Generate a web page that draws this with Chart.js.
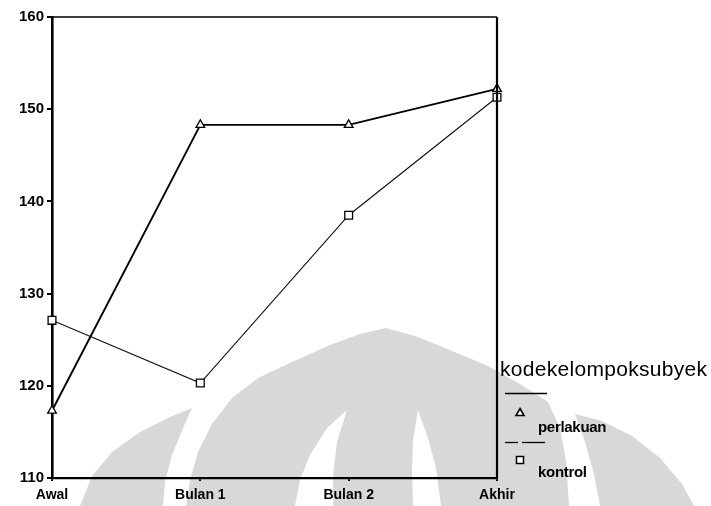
<!DOCTYPE html>
<html>
<head>
<meta charset="utf-8">
<script src="https://cdn.jsdelivr.net/npm/chart.js@4/dist/chart.umd.min.js"></script>
<style>
  html,body{margin:0;padding:0;background:#fff;}
  #wrap{position:relative;width:711px;height:506px;overflow:hidden;}
  canvas{position:absolute;left:0;top:0;}
  .lg{position:absolute;font-family:"Liberation Sans",Arial,sans-serif;color:#000;white-space:nowrap;line-height:1;}
  #ttl{left:500px;top:358px;font-size:21px;letter-spacing:0.3px;}
  .itm{font-size:15px;font-weight:bold;letter-spacing:-0.3px;}
  svg.lgs{position:absolute;left:0;top:0;}
</style>
</head>
<body>
<div id="wrap">
  <canvas id="c" width="711" height="506"></canvas>
  <svg class="lgs" width="711" height="506">
    <line x1="505" y1="393.5" x2="547" y2="393.5" stroke="#000" stroke-width="1.3"/>
    <polygon points="520,408.5 524,415.5 516,415.5" fill="#fff" stroke="#000" stroke-width="1.6"/>
    <line x1="505" y1="442.5" x2="518" y2="442.5" stroke="#000" stroke-width="1.3"/>
    <line x1="522" y1="442.5" x2="545" y2="442.5" stroke="#000" stroke-width="1.3"/>
    <rect x="516.5" y="456.5" width="7" height="7" fill="#fff" stroke="#000" stroke-width="1.5"/>
  </svg>
  <div id="ttl" class="lg">kodekelompoksubyek</div>
  <div class="lg itm" style="left:538px;top:419px;">perlakuan</div>
  <div class="lg itm" style="left:538px;top:464px;">kontrol</div>
</div>
<script>
const categories = ["Awal", "Bulan 1", "Bulan 2", "Akhir"];
const perlakuan = [117.3, 148.3, 148.3, 152.2];
const kontrol = [127.1, 120.3, 138.5, 151.3];
const yTicks = [110, 120, 130, 140, 150, 160];

const watermark = {
  id: 'watermark',
  beforeDraw(chart) {
    const ctx = chart.ctx;
    ctx.save();
    ctx.fillStyle = '#d8d8d8';
    const poly = (pts) => {
      ctx.beginPath();
      ctx.moveTo(pts[0][0], pts[0][1]);
      for (let i = 1; i < pts.length; i++) ctx.lineTo(pts[i][0], pts[i][1]);
      ctx.closePath();
      ctx.fill();
    };
    // left outer leg
    poly([[80,506],[92,476],[112,452],[140,432],[170,417],[192,408],[184,426],[172,455],[165,482],[163,506]]);
    // right outer leg
    poly([[600,506],[594,474],[585,442],[575,414],[602,421],[632,436],[660,458],[682,484],[694,506]]);
    // central arch
    poly([[186,506],[190,480],[198,452],[212,424],[232,398],[258,378],[292,362],[330,345],[360,334],[386,328],
          [415,336],[450,350],[488,366],[520,384],[548,402],[560,428],[566,460],[569,506]]);
    // inner white strips
    ctx.fillStyle = '#ffffff';
    poly([[347,410],[327,428],[310,455],[300,480],[295,506],[333,506],[333,475],[337,442]]);
    poly([[418,410],[428,438],[436,468],[441,506],[413,506],[412,472],[413,440]]);
    ctx.restore();
  }
};

const frame = {
  id: 'frame',
  afterDatasetsDraw(chart) {
    const a = chart.chartArea, ctx = chart.ctx;
    ctx.save();
    ctx.strokeStyle = '#000';
    ctx.lineWidth = 1.6;
    ctx.beginPath();
    ctx.moveTo(a.left, a.top);
    ctx.lineTo(a.right, a.top);
    ctx.stroke();
    ctx.lineWidth = 2.2;
    ctx.beginPath();
    ctx.moveTo(a.right, a.top);
    ctx.lineTo(a.right, a.bottom);
    ctx.stroke();
    ctx.restore();
  }
};

new Chart(document.getElementById('c'), {
  type: 'line',
  data: {
    labels: categories,
    datasets: [
      {
        label: 'perlakuan',
        data: perlakuan,
        borderColor: '#000',
        borderWidth: 1.9,
        pointStyle: 'triangle',
        pointRadius: 5,
        pointBackgroundColor: '#fff',
        pointBorderColor: '#000',
        pointBorderWidth: 1.3,
        tension: 0,
        fill: false
      },
      {
        label: 'kontrol',
        data: kontrol,
        borderColor: '#111',
        borderWidth: 1.1,
        pointStyle: 'rect',
        pointRadius: 5.5,
        pointBackgroundColor: '#fff',
        pointBorderColor: '#000',
        pointBorderWidth: 1.3,
        tension: 0,
        fill: false
      }
    ]
  },
  options: {
    responsive: false,
    animation: false,
    layout: { padding: { left: 0, top: 17, right: 214, bottom: 0 } },
    plugins: { legend: { display: false }, tooltip: { enabled: false } },
    scales: {
      x: {
        type: 'category',
        offset: false,
        afterFit(s) { s.height = 28; },
        grid: { drawOnChartArea: false, drawTicks: true, tickLength: 3, tickColor: '#000', lineWidth: 2 },
        border: { display: true, color: '#000', width: 2.2 },
        ticks: {
          color: '#000',
          padding: 6,
          maxRotation: 0,
          font: { family: 'Liberation Sans', size: 14, weight: 'bold' }
        }
      },
      y: {
        min: 110,
        max: 160,
        afterFit(s) { s.width = 52; },
        afterBuildTicks(s) { s.ticks = yTicks.map(v => ({ value: v })); },
        grid: { drawOnChartArea: false, drawTicks: true, tickLength: 5, tickColor: '#000', lineWidth: 2 },
        border: { display: true, color: '#000', width: 2.6 },
        ticks: {
          color: '#000',
          padding: 3,
          font: { family: 'Liberation Sans', size: 15, weight: 'bold' }
        }
      }
    }
  },
  plugins: [watermark, frame]
});
</script>
</body>
</html>
